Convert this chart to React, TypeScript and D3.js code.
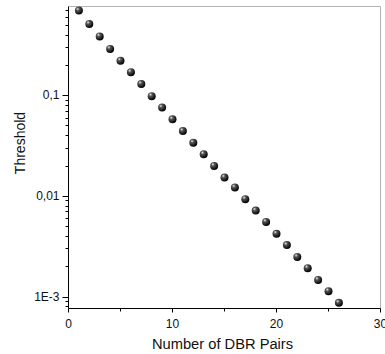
import React, { useEffect, useRef } from 'react';
import * as d3 from 'd3';

// DBR pair count vs threshold
const pairs = [1, 2, 3, 4, 5, 6, 7, 8, 9, 10, 11, 12, 13, 14, 15, 16, 17, 18, 19, 20, 21, 22, 23, 24, 25, 26];
const threshold = [
  0.692, 0.509, 0.383, 0.288, 0.22, 0.169, 0.129, 0.0977, 0.0753, 0.0575,
  0.044, 0.0337, 0.0259, 0.0198, 0.0152, 0.0121, 0.00927, 0.00713, 0.0055, 0.0042,
  0.00324, 0.00247, 0.00191, 0.00146, 0.00113, 0.000865,
];
const xTicks = [0, 10, 20, 30];
const xMinor = [5, 15, 25];
const yTicks = [0.1, 0.01, 0.001];
const yTickLabels = ['0,1', '0,01', '1E-3'];

const App = () => {
  const svgRef = useRef<SVGSVGElement>(null);

  useEffect(() => {
    const width = 385;
    const height = 354;
    const left = 68.5;
    const right = 380.5;
    const top = 6.5;
    const bottom = 308.5;
    const font = '"Liberation Sans", Arial, sans-serif';

    const svg = d3.select(svgRef.current);
    svg.selectAll('*').remove();
    svg.attr('width', width).attr('height', height);

    const x = d3.scaleLinear().domain([0, 30]).range([left, right]);
    const y = d3.scaleLog().domain([7.6e-4, 0.76]).range([bottom, top]);

    // sphere gradient
    const grad = svg.append('defs').append('radialGradient')
      .attr('id', 'ball')
      .attr('cx', '35%').attr('cy', '30%').attr('r', '70%');
    grad.append('stop').attr('offset', '0%').attr('stop-color', '#e8e8e8');
    grad.append('stop').attr('offset', '30%').attr('stop-color', '#555');
    grad.append('stop').attr('offset', '100%').attr('stop-color', '#000');

    // frame: top and right gray
    svg.append('line').attr('x1', left).attr('x2', right).attr('y1', top).attr('y2', top)
      .attr('stroke', '#b4b4b4').attr('stroke-width', 1);
    svg.append('line').attr('x1', right).attr('x2', right).attr('y1', top).attr('y2', bottom)
      .attr('stroke', '#b4b4b4').attr('stroke-width', 1);

    // x axis
    svg.append('line').attr('x1', left).attr('x2', right).attr('y1', bottom).attr('y2', bottom)
      .attr('stroke', '#000');
    xTicks.forEach(t => {
      svg.append('line').attr('x1', x(t)).attr('x2', x(t)).attr('y1', bottom).attr('y2', bottom + 4)
        .attr('stroke', '#000');
      svg.append('text').attr('x', x(t)).attr('y', bottom + 19)
        .attr('text-anchor', 'middle').attr('font-family', font).attr('font-size', 12)
        .attr('fill', '#111').text(t);
    });
    xMinor.forEach(t => {
      svg.append('line').attr('x1', x(t)).attr('x2', x(t)).attr('y1', bottom).attr('y2', bottom + 3)
        .attr('stroke', '#000');
    });

    // y axis
    svg.append('line').attr('x1', left).attr('x2', left).attr('y1', top).attr('y2', bottom)
      .attr('stroke', '#000');
    const [d0, d1] = y.domain();
    const minor: number[] = [];
    for (let e = -4; e <= 0; e++) {
      for (let m = 2; m <= 9; m++) {
        const v = m * Math.pow(10, e);
        if (v >= d0 && v <= d1) minor.push(v);
      }
    }
    minor.forEach(v => {
      svg.append('line').attr('x1', left - 3).attr('x2', left)
        .attr('y1', Math.round(y(v)) + 0.5).attr('y2', Math.round(y(v)) + 0.5)
        .attr('stroke', '#000');
    });
    yTicks.forEach((v, i) => {
      svg.append('line').attr('x1', left - 6).attr('x2', left)
        .attr('y1', Math.round(y(v)) + 0.5).attr('y2', Math.round(y(v)) + 0.5)
        .attr('stroke', '#000');
      svg.append('text').attr('x', left - 9).attr('y', y(v) + 4)
        .attr('text-anchor', 'end').attr('font-family', font).attr('font-size', 12)
        .attr('fill', '#111').text(yTickLabels[i]);
    });

    // points
    svg.append('g').selectAll('circle')
      .data(pairs.map((p, i) => ({ p, v: threshold[i] })))
      .join('circle')
      .attr('cx', d => x(d.p))
      .attr('cy', d => y(d.v))
      .attr('r', 4)
      .attr('fill', 'url(#ball)');

    // axis titles
    svg.append('text')
      .attr('x', 222.5).attr('y', 349)
      .attr('text-anchor', 'middle').attr('font-family', font).attr('font-size', 14.7)
      .attr('fill', '#111').text('Number of DBR Pairs');
    svg.append('text')
      .attr('transform', `translate(25,143) rotate(-90)`)
      .attr('text-anchor', 'middle').attr('font-family', font).attr('font-size', 14)
      .attr('fill', '#111').text('Threshold');
  }, []);

  return (
    <div style={{ position: 'absolute', left: 0, top: 0 }}>
      <svg ref={svgRef} style={{ display: 'block' }}></svg>
    </div>
  );
};

export default App;
